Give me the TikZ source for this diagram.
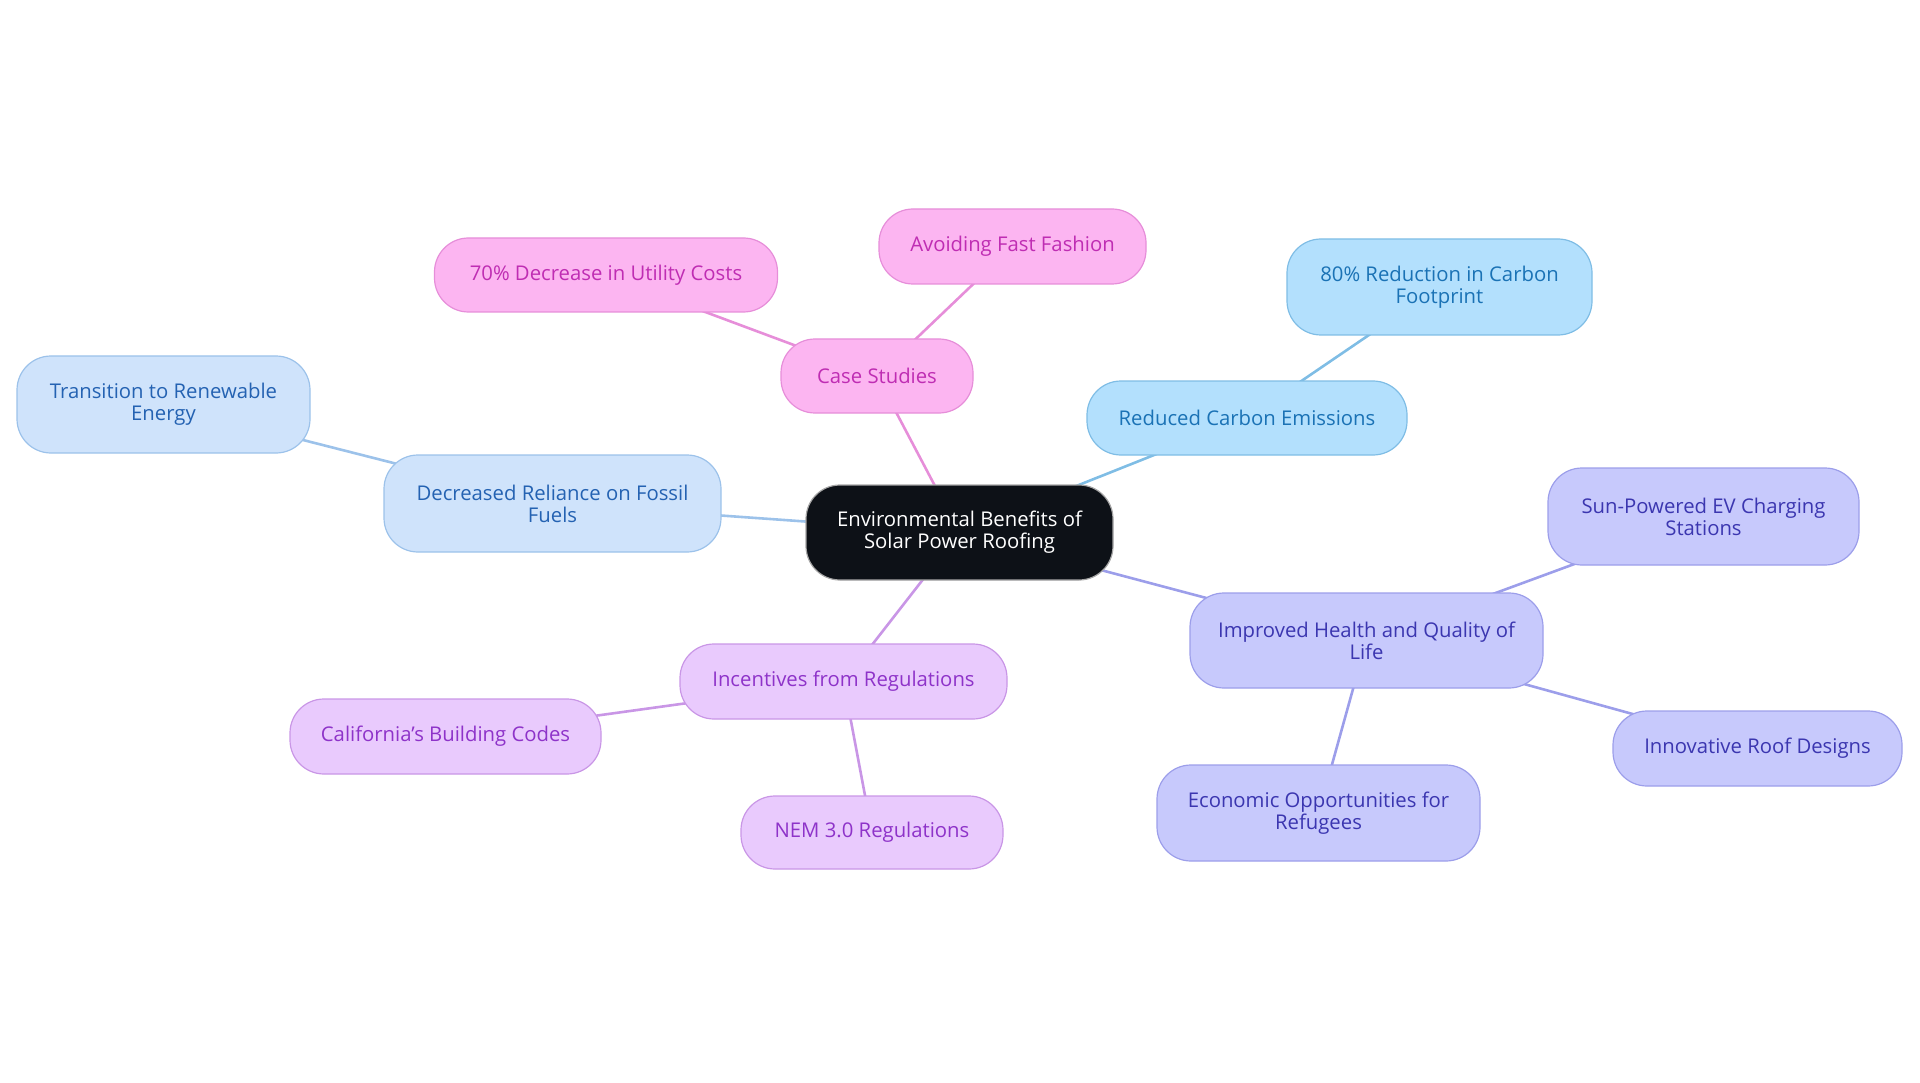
\documentclass[tikz,border=0pt]{standalone}
\usepackage{fontspec}
\setmainfont{Open Sans}
\usetikzlibrary{backgrounds}
\definecolor{cdark}{HTML}{0D1117}
\definecolor{pinkfill}{HTML}{FCB5F1}
\definecolor{pinktext}{HTML}{BF2DB3}
\definecolor{pinkline}{HTML}{E68ED9}
\definecolor{bluefill}{HTML}{B3E0FD}
\definecolor{bluetext}{HTML}{1A72B5}
\definecolor{blueline}{HTML}{7FBDE5}
\definecolor{pbluefill}{HTML}{CFE3FB}
\definecolor{pbluetext}{HTML}{2462B2}
\definecolor{pblueline}{HTML}{9CC2EA}
\definecolor{purpfill}{HTML}{E9CAFD}
\definecolor{purptext}{HTML}{8E33C9}
\definecolor{purpline}{HTML}{C996E6}
\definecolor{perifill}{HTML}{C7C9FC}
\definecolor{peritext}{HTML}{3B36B0}
\definecolor{periline}{HTML}{9C9EEA}
\tikzset{
  box/.style={rounded corners=34pt, align=center, inner sep=0pt, line width=1.2pt,
    font=\fontsize{20.3}{22}\selectfont},
  central/.style={box, fill=cdark, draw=gray!70, text=white},
  pinkbox/.style={box, fill=pinkfill, draw=pinkline, text=pinktext},
  bluebox/.style={box, fill=bluefill, draw=blueline, text=bluetext},
  pbluebox/.style={box, fill=pbluefill, draw=pblueline, text=pbluetext},
  purpbox/.style={box, fill=purpfill, draw=purpline, text=purptext},
  peribox/.style={box, fill=perifill, draw=periline, text=peritext},
  edge/.style={line width=2.6pt},
}
\begin{document}
\begin{tikzpicture}[x=1pt,y=-1pt]
\useasboundingbox (0,0) rectangle (1920,1083);
\node[central, minimum width=307pt, minimum height=95pt] (c) at (959.5,532.5) {Environmental Benefits of\\Solar Power Roofing};
\node[pinkbox, minimum width=192pt, minimum height=74pt] (cs) at (877,376) {Case Studies};
\node[pinkbox, minimum width=267pt, minimum height=75pt] (aff) at (1012.5,246.5) {Avoiding Fast Fashion};
\node[pinkbox, minimum width=343pt, minimum height=74pt] (dec) at (606,275) {70\% Decrease in Utility Costs};
\node[bluebox, minimum width=320pt, minimum height=74pt] (rce) at (1247,418) {Reduced Carbon Emissions};
\node[bluebox, minimum width=305pt, minimum height=96pt] (red) at (1439.5,287) {80\% Reduction in Carbon\\Footprint};
\node[pbluebox, minimum width=337pt, minimum height=97pt] (drf) at (552.5,503.5) {Decreased Reliance on Fossil\\Fuels};
\node[pbluebox, minimum width=293pt, minimum height=97pt] (tre) at (163.5,404.5) {Transition to Renewable\\Energy};
\node[purpbox, minimum width=327pt, minimum height=75pt] (inc) at (843.5,681.5) {Incentives from Regulations};
\node[purpbox, minimum width=311pt, minimum height=75pt] (cal) at (445.5,736.5) {California’s Building Codes};
\node[purpbox, minimum width=262pt, minimum height=73pt] (nem) at (872,832.5) {NEM 3.0 Regulations};
\node[peribox, minimum width=353pt, minimum height=95pt] (ihq) at (1366.5,640.5) {Improved Health and Quality of\\Life};
\node[peribox, minimum width=311pt, minimum height=97pt] (sun) at (1703.5,516.5) {Sun-Powered EV Charging\\Stations};
\node[peribox, minimum width=289pt, minimum height=75pt] (irf) at (1757.5,748.5) {Innovative Roof Designs};
\node[peribox, minimum width=323pt, minimum height=96pt] (eco) at (1318.5,813) {Economic Opportunities for\\Refugees};
\begin{scope}[on background layer]
\draw[edge, pinkline] (c.center) -- (cs.center);
\draw[edge, pinkline] (cs.center) -- (aff.center);
\draw[edge, pinkline] (cs.center) -- (dec.center);
\draw[edge, blueline] (c.center) -- (rce.center);
\draw[edge, blueline] (rce.center) -- (red.center);
\draw[edge, pblueline] (c.center) -- (drf.center);
\draw[edge, pblueline] (drf.center) -- (tre.center);
\draw[edge, purpline] (c.center) -- (inc.center);
\draw[edge, purpline] (inc.center) -- (cal.center);
\draw[edge, purpline] (inc.center) -- (nem.center);
\draw[edge, periline] (c.center) -- (ihq.center);
\draw[edge, periline] (ihq.center) -- (sun.center);
\draw[edge, periline] (ihq.center) -- (irf.center);
\draw[edge, periline] (ihq.center) -- (eco.center);
\end{scope}
\end{tikzpicture}
\end{document}
